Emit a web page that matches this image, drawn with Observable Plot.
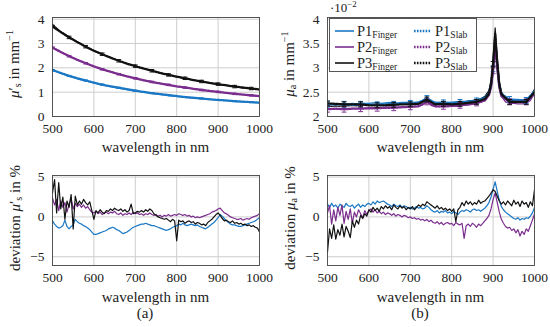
<!DOCTYPE html>
<html><head><meta charset="utf-8">
<script src="https://cdn.jsdelivr.net/npm/d3@7"></script>
<script src="https://cdn.jsdelivr.net/npm/@observablehq/plot@0.6"></script>
<style>
body{margin:0;background:#fff;}
#wrap{position:relative;width:550px;height:327px;font-family:"Liberation Serif","DejaVu Serif","Times New Roman",serif;color:#222;overflow:hidden;}
.abs{position:absolute;}
.pl{position:absolute;}
.ylab{position:absolute;transform:translate(-50%,-50%) rotate(-90deg);white-space:nowrap;font-size:15px;line-height:1;}
.xlab{position:absolute;transform:translate(-50%,-50%);white-space:nowrap;font-size:15px;line-height:1;}
sub{font-size:0.68em;vertical-align:-0.28em;line-height:0;}
sup{font-size:0.68em;vertical-align:0.55em;line-height:0;}
#legend{position:absolute;left:329px;top:18px;width:148px;height:54px;border:1px solid #555;background:#fff;box-sizing:border-box;}
.lg{position:absolute;font-size:14.5px;line-height:1;white-space:nowrap;}
.lg sub{font-size:0.66em;vertical-align:-0.22em;}
svg text{font-family:"Liberation Serif","DejaVu Serif","Times New Roman",serif;}
</style>
</head><body>
<div id="wrap"></div>
<script>
// ---------------- data ----------------
const series = ["P1", "P2", "P3"];
const conditions = ["Finger", "Slab"];
const xTicks = [500, 600, 700, 800, 900, 1000];

// reduced scattering coefficient mu_s' (mm^-1)
const lamS = [500,520,540,560,580,600,620,640,660,680,700,720,740,760,780,800,820,840,860,880,900,920,940,960,980,1000];
const musP1Finger = [1.90,1.77,1.66,1.55,1.46,1.38,1.30,1.23,1.16,1.10,1.05,1.00,0.95,0.91,0.86,0.83,0.79,0.76,0.73,0.70,0.67,0.65,0.62,0.60,0.58,0.56];
const musP2Finger = [2.85,2.66,2.49,2.33,2.19,2.06,1.95,1.84,1.74,1.65,1.57,1.50,1.43,1.36,1.30,1.24,1.19,1.14,1.09,1.05,1.01,0.97,0.93,0.90,0.87,0.84];
const musP3Finger = [3.78,3.49,3.28,3.05,2.89,2.71,2.56,2.42,2.30,2.18,2.07,1.97,1.88,1.79,1.71,1.63,1.56,1.50,1.44,1.38,1.32,1.28,1.23,1.18,1.14,1.10];
const musP1Slab = [1.91,1.79,1.67,1.57,1.48,1.39,1.31,1.24,1.18,1.12,1.06,1.01,0.96,0.92,0.88,0.84,0.80,0.77,0.74,0.71,0.68,0.66,0.63,0.61,0.59,0.57];
const musP2Slab = [2.83,2.65,2.48,2.33,2.19,2.06,1.94,1.84,1.74,1.65,1.57,1.49,1.42,1.36,1.30,1.24,1.19,1.14,1.09,1.05,1.01,0.97,0.93,0.90,0.87,0.84];
const musP3Slab = [3.70,3.47,3.25,3.06,2.87,2.70,2.56,2.42,2.29,2.17,2.07,1.97,1.88,1.79,1.71,1.64,1.57,1.50,1.44,1.38,1.33,1.28,1.23,1.19,1.15,1.11];
const musErr = [0.02, 0.03, 0.05];

// absorption coefficient mu_a (x 10^-2 mm^-1)
const lamA = [500,510,520,530,540,550,560,570,580,590,600,610,620,630,640,650,660,670,680,690,700,710,720,730,740,750,760,770,780,790,800,810,820,830,840,850,860,870,880,890,895,900,905,910,915,920,930,940,950,960,970,980,990,1000];
const muaP1Finger = [2.27,2.25,2.26,2.25,2.27,2.26,2.27,2.26,2.28,2.27,2.27,2.28,2.28,2.27,2.28,2.29,2.28,2.28,2.29,2.29,2.30,2.29,2.30,2.33,2.40,2.32,2.29,2.29,2.30,2.29,2.29,2.30,2.31,2.31,2.32,2.33,2.35,2.37,2.41,2.52,2.70,3.10,3.70,3.15,2.70,2.50,2.38,2.35,2.34,2.34,2.33,2.34,2.40,2.55];
const muaP2Finger = [2.16,2.15,2.16,2.15,2.16,2.16,2.17,2.16,2.17,2.17,2.18,2.18,2.19,2.18,2.19,2.19,2.20,2.19,2.20,2.20,2.21,2.20,2.21,2.24,2.31,2.23,2.20,2.20,2.21,2.20,2.21,2.21,2.22,2.23,2.24,2.25,2.27,2.29,2.33,2.44,2.62,3.00,3.58,3.05,2.62,2.42,2.30,2.27,2.27,2.26,2.26,2.27,2.33,2.47];
const muaP3Finger = [2.22,2.21,2.22,2.21,2.23,2.22,2.23,2.22,2.24,2.23,2.24,2.25,2.25,2.24,2.25,2.26,2.26,2.25,2.26,2.27,2.27,2.27,2.28,2.31,2.38,2.30,2.27,2.27,2.28,2.27,2.27,2.28,2.29,2.30,2.31,2.32,2.34,2.36,2.41,2.53,2.75,3.20,3.82,3.22,2.72,2.50,2.37,2.33,2.33,2.32,2.32,2.33,2.40,2.56];
const lamAS = [500,520,540,560,580,600,620,640,660,680,700,720,740,760,780,800,820,840,860,880,890,895,900,905,910,915,920,940,960,980,1000];
const muaP1Slab = [2.25,2.25,2.25,2.24,2.25,2.24,2.24,2.25,2.25,2.26,2.27,2.28,2.37,2.28,2.28,2.28,2.29,2.30,2.32,2.38,2.48,2.64,2.98,3.55,3.05,2.62,2.46,2.35,2.34,2.33,2.52];
const muaP2Slab = [2.15,2.16,2.15,2.16,2.16,2.17,2.17,2.18,2.18,2.19,2.20,2.21,2.30,2.21,2.21,2.22,2.23,2.25,2.28,2.33,2.44,2.60,2.94,3.48,2.99,2.60,2.42,2.30,2.30,2.30,2.47];
const muaP3Slab = [2.27,2.26,2.25,2.25,2.25,2.23,2.23,2.23,2.24,2.25,2.25,2.26,2.35,2.25,2.26,2.25,2.26,2.28,2.30,2.36,2.47,2.66,3.08,3.70,3.12,2.66,2.46,2.30,2.30,2.30,2.50];
const muaErr = [0.06, 0.06, 0.05];

// deviation finger vs slab (%)
const lamD = d3.range(500, 1001, 5);
const devMusP1 = [-0.5,-0.9,-1.2,-1.4,-1.3,-1.1,-0.4,-1.2,-1.5,-1.2,-1.0,-0.3,-0.6,-0.8,-0.9,-1.1,-1.2,-1.4,-1.6,-1.9,
 -2.2,-2.2,-2.1,-2.0,-1.9,-1.8,-1.7,-1.5,-1.4,-1.3,-1.4,-1.6,-1.7,-1.9,-2.1,-2.0,-1.9,-1.7,-1.5,-1.3,
 -1.2,-1.1,-1.0,-0.9,-0.9,-0.8,-0.9,-1.0,-1.1,-1.1,-1.2,-1.3,-1.4,-1.5,-1.6,-1.7,-1.6,-1.5,-1.3,-1.2,
 -1.1,-0.9,-1.0,-0.8,-1.0,-1.1,-1.0,-0.9,-1.0,-1.1,-1.0,-1.2,-1.3,-1.4,-1.5,-1.3,-1.1,-0.9,-0.7,-0.4,
 -0.1,0.3,0.1,-0.2,-0.5,-0.7,-0.9,-1.0,-1.0,-1.1,-1.2,-1.2,-1.1,-1.0,-0.9,-0.8,-0.7,-0.6,-0.5,-0.3,-0.1];
const devMusP2 = [2.4,1.5,2.2,0.8,2.0,1.2,1.8,0.6,1.6,2.3,1.0,1.7,1.3,1.6,1.2,1.5,1.1,1.3,0.9,0.6,
 0.5,0.7,0.4,0.6,0.3,0.5,0.6,0.4,0.6,0.5,0.7,0.4,0.3,0.5,0.2,0.4,0.3,0.5,0.3,0.6,
 0.4,0.5,0.3,0.4,0.2,0.4,0.3,0.5,0.3,0.2,0.3,0.1,0.2,0.0,0.2,0.1,0.3,0.1,0.2,0.3,
 0.2,0.4,0.3,0.2,0.3,0.1,0.2,0.0,0.1,-0.1,0.0,-0.1,0.0,0.1,0.2,0.3,0.4,0.6,0.7,0.8,
 1.0,1.1,0.8,0.5,0.4,0.2,0.0,-0.1,-0.2,-0.3,-0.3,-0.2,-0.4,-0.3,-0.2,-0.3,-0.1,0.0,0.1,0.2,0.4];
const devMusP3 = [3.0,4.7,0.5,4.3,1.0,2.5,-0.3,2.0,1.2,2.8,-1.5,2.6,1.5,2.0,1.6,2.2,1.8,1.5,1.9,0.8,
 -0.3,0.8,0.5,0.9,0.6,0.4,0.8,0.7,1.0,0.8,1.1,0.9,0.8,1.0,0.7,0.9,0.6,0.8,1.6,0.4,
 0.5,0.7,0.6,0.8,0.6,0.9,0.7,1.0,0.8,0.4,0.2,0.0,-0.1,-0.2,-0.3,-0.2,-0.4,-0.6,-0.3,-0.5,
 -3.0,-0.4,-0.6,-0.5,-0.8,-0.6,-0.5,-0.7,-0.6,-0.9,-0.7,-0.8,-1.0,-0.9,-1.1,-0.7,-0.5,-0.3,0.0,0.3,
 0.5,0.2,-0.2,-0.5,-0.4,-0.6,-0.7,-0.5,-0.8,-0.7,-0.9,-0.8,-1.0,-0.9,-1.1,-1.0,-1.2,-1.1,-1.3,-1.4,-1.9];
const devMuaP1 = [1.6,1.2,1.7,1.3,1.5,1.1,1.6,1.4,1.2,1.7,1.4,1.3,1.5,1.1,1.4,1.6,1.2,1.5,1.3,1.6,
 1.7,1.5,1.9,1.6,2.0,1.8,1.9,2.0,1.8,1.6,1.5,1.3,1.6,1.4,1.3,1.5,1.2,1.4,1.3,1.1,
 1.2,1.0,1.1,1.3,1.1,1.2,1.0,1.1,1.4,1.2,0.9,0.7,0.6,0.8,0.5,0.7,0.6,0.8,0.5,0.6,
 0.4,0.7,0.5,0.3,0.6,0.8,0.7,0.9,0.8,0.6,0.9,1.0,0.8,0.9,0.7,0.9,1.1,1.4,1.8,2.5,
 3.5,4.4,3.2,2.1,1.3,0.9,0.6,0.4,0.2,0.0,-0.2,-0.3,-0.1,-0.4,-0.2,-0.3,-0.1,-0.2,0.1,0.5,1.2];
const devMuaP2 = [0.5,1.4,-0.9,0.9,-0.5,1.2,0.2,1.5,-0.8,0.7,-0.3,1.0,-0.8,0.6,0.0,0.9,0.4,-0.1,0.8,0.3,
 0.8,1.0,0.6,0.9,0.5,0.7,0.4,0.6,0.3,0.5,0.4,0.2,0.4,0.1,0.3,0.2,0.0,0.2,0.1,-0.1,
 0.0,-0.2,-0.1,-0.3,-0.2,-0.4,-0.3,-0.5,-0.3,-0.6,-0.4,-0.7,-0.8,-0.6,-0.9,-0.7,-1.0,-0.8,-0.7,-0.9,
 -0.8,-1.1,-0.7,-0.9,-1.0,-0.8,-2.7,-1.1,-0.9,-1.2,-0.8,-1.0,-1.3,-0.9,-1.1,-0.8,-0.5,-0.2,0.2,1.0,
 2.2,3.0,1.8,0.6,-0.3,-0.8,-1.2,-1.4,-1.3,-1.7,-1.5,-2.0,-1.6,-2.4,-1.8,-2.2,-1.5,-1.8,-1.1,-0.4,0.4];
const devMuaP3 = [-4.4,-1.5,-2.7,-1.0,-2.8,-1.6,-2.3,-0.9,-2.5,-1.2,-1.8,-2.6,-0.5,-1.3,-0.4,-0.9,0.2,-0.2,0.4,0.1,
 0.9,0.6,1.2,0.8,1.1,0.7,1.3,1.0,1.4,1.1,1.3,0.9,1.5,1.2,1.0,1.4,1.1,1.3,0.9,1.2,
 1.0,1.3,0.9,1.2,1.5,1.3,1.6,1.4,1.9,1.7,1.5,1.3,1.1,1.4,1.0,1.2,0.9,1.1,0.8,1.0,
 0.7,1.0,-0.6,0.9,1.2,1.8,1.4,2.0,1.6,1.9,1.5,1.8,1.6,2.1,1.7,1.9,2.0,2.3,2.6,3.0,
 3.4,3.2,2.6,2.0,1.6,1.9,1.5,2.0,1.7,1.4,2.1,1.6,1.9,1.3,2.0,1.6,1.8,1.2,1.9,1.4,3.4];

// ---------------- styling ----------------
const colors = {P1: "#1b78c4", P2: "#7b2d8e", P3: "#111111"};
const gridColor = "#cdcdcd";
const serif = "'Liberation Serif', 'DejaVu Serif', 'Times New Roman', serif";
const fmt = d => (d < 0 ? "\u2212" + Math.abs(d) : String(d));

const rows = (xs, ys, s) => xs.map((x, i) => ({x, y: ys[i], s}));
const capSymbol = {draw(ctx, size) { const r = Math.sqrt(size / Math.PI); ctx.moveTo(-r, 0); ctx.lineTo(r, 0); }};

function panel({yDomain, yTicks, height, mt, mb, marks}) {
  return Plot.plot({
    width: 275, height,
    marginLeft: 52, marginRight: 16, marginTop: mt, marginBottom: mb,
    style: {fontFamily: serif, fontSize: "13.5px", color: "#222", background: "transparent", overflow: "visible"},
    x: {domain: [500, 1000], ticks: xTicks, tickSize: 0, tickPadding: 7, label: null, tickFormat: fmt},
    y: {domain: yDomain, ticks: yTicks, tickSize: 0, tickPadding: 8, label: null, tickFormat: fmt},
    marks: [
      Plot.gridX(xTicks.slice(1, -1), {stroke: gridColor, strokeOpacity: 1}),
      Plot.gridY(yTicks, {stroke: gridColor, strokeOpacity: 1}),
      ...marks,
      Plot.frame({stroke: "#444", strokeWidth: 0.9})
    ]
  });
}

function fingerSlabMarks(lamF, fingers, lamSl, slabs, errs, errStep) {
  const m = [];
  series.forEach((s, i) => {
    m.push(Plot.line(rows(lamF, fingers[i], s), {x: "x", y: "y", stroke: colors[s], strokeWidth: 1.2, curve: "linear", clip: true}));
  });
  series.forEach((s, i) => {
    const d = rows(lamSl, slabs[i], s);
    const eb = d.filter(p => (p.x - 500) % errStep === 0).map(p => ({x: p.x, y1: p.y - errs[i], y2: p.y + errs[i]}));
    m.push(Plot.ruleX(eb, {x: "x", y1: "y1", y2: "y2", stroke: colors[s], strokeWidth: 1, clip: true}));
    m.push(Plot.dot(eb, {x: "x", y: "y1", symbol: capSymbol, r: 2.4, stroke: colors[s], strokeWidth: 1, clip: true}));
    m.push(Plot.dot(eb, {x: "x", y: "y2", symbol: capSymbol, r: 2.4, stroke: colors[s], strokeWidth: 1, clip: true}));
    m.push(Plot.line(d, {x: "x", y: "y", stroke: colors[s], strokeWidth: 2.3, strokeDasharray: "1.6,1.3", curve: "linear", clip: true}));
  });
  return m;
}

function devMarks(vals) {
  return series.map((s, i) => Plot.line(rows(lamD, vals[i], s), {x: "x", y: "y", stroke: colors[s], strokeWidth: 1.2, clip: true}));
}

const wrap = document.getElementById("wrap");
function place(node, left, top) { node.classList.add("pl"); node.style.left = left + "px"; node.style.top = top + "px"; wrap.appendChild(node); }

place(panel({yDomain: [0, 4.07], yTicks: [0, 1, 2, 3, 4], height: 140, mt: 17, mb: 24,
  marks: fingerSlabMarks(lamS, [musP1Finger, musP2Finger, musP3Finger], lamS, [musP1Slab, musP2Slab, musP3Slab], musErr, 40)}), 0, 0);
place(panel({yDomain: [2, 4.035], yTicks: [2, 2.5, 3, 3.5, 4], height: 140, mt: 17, mb: 24,
  marks: fingerSlabMarks(lamA, [muaP1Finger, muaP2Finger, muaP3Finger], lamAS, [muaP1Slab, muaP2Slab, muaP3Slab], muaErr, 40)}), 275, 0);
place(panel({yDomain: [-6.1, 5.2], yTicks: [-5, 0, 5], height: 130, mt: 15, mb: 25,
  marks: devMarks([devMusP1, devMusP2, devMusP3])}), 0, 160);
place(panel({yDomain: [-6.1, 5.2], yTicks: [-5, 0, 5], height: 130, mt: 15, mb: 25,
  marks: devMarks([devMuaP1, devMuaP2, devMuaP3])}), 275, 160);

// ---------------- text ----------------
function addHTML(cls, html, x, y) { const d = document.createElement("div"); d.className = cls; d.innerHTML = html; d.style.left = x + "px"; d.style.top = y + "px"; wrap.appendChild(d); return d; }
const xTitle = "wavelength in nm";
addHTML("xlab", xTitle, 155.5, 147);
addHTML("xlab", xTitle, 430.5, 147);
addHTML("xlab", xTitle, 155.5, 297);
addHTML("xlab", xTitle, 430.5, 297);
addHTML("ylab", "<i>μ</i>′<sub>s</sub> in mm<sup>−1</sup>", 14, 64);
addHTML("ylab", "<i>μ</i><sub>a</sub> in mm<sup>−1</sup>", 289, 64);
addHTML("ylab", "deviation <i>μ</i>′<sub>s</sub> in %", 15, 218);
addHTML("ylab", "deviation <i>μ</i><sub>a</sub> in %", 290, 218);
addHTML("xlab", "(a)", 145, 313);
addHTML("xlab", "(b)", 420, 313);
const sc = addHTML("abs", "·10<sup>−2</sup>", 330, 1);
sc.style.fontSize = "13px"; sc.style.lineHeight = "1";

// legend
const lg = document.createElement("div"); lg.id = "legend"; wrap.appendChild(lg);
const rowY = [12, 28, 44];
conditions.forEach((c, ci) => {
  series.forEach((s, si) => {
    const sx = ci === 0 ? 5 : 84, tx = ci === 0 ? 27 : 105;
    const sw = document.createElementNS("http://www.w3.org/2000/svg", "svg");
    sw.setAttribute("width", 20); sw.setAttribute("height", 6);
    sw.style.position = "absolute"; sw.style.left = sx + "px"; sw.style.top = (rowY[si] - 3) + "px";
    const ln = document.createElementNS("http://www.w3.org/2000/svg", "line");
    ln.setAttribute("x1", 0); ln.setAttribute("x2", ci === 0 ? 19 : 17); ln.setAttribute("y1", 3); ln.setAttribute("y2", 3);
    ln.setAttribute("stroke", colors[s]);
    ln.setAttribute("stroke-width", ci === 0 ? 1.6 : 2.4);
    if (ci === 1) ln.setAttribute("stroke-dasharray", "1.6,1.3");
    sw.appendChild(ln); lg.appendChild(sw);
    const t = document.createElement("div"); t.className = "lg";
    t.innerHTML = s + "<sub>" + c + "</sub>";
    t.style.left = tx + "px"; t.style.top = (rowY[si] - 7) + "px";
    lg.appendChild(t);
  });
});
</script>
</body></html>
